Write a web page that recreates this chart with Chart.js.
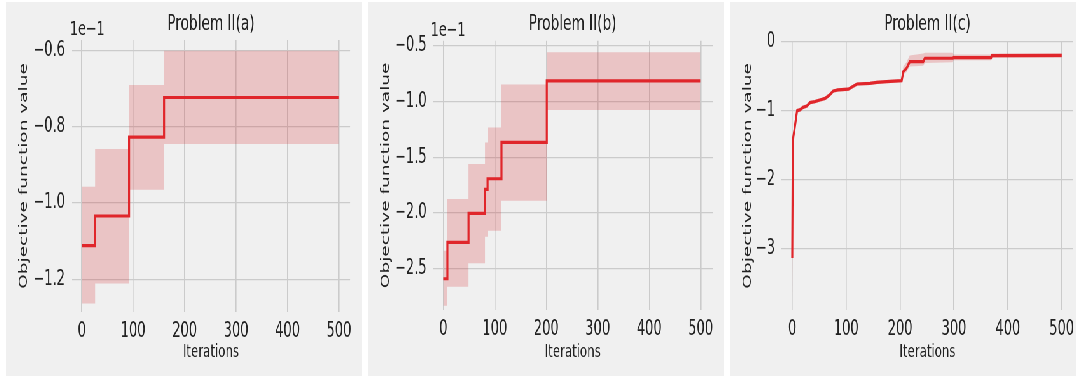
<!DOCTYPE html>
<html>
<head>
<meta charset="utf-8">
<script src="https://cdn.jsdelivr.net/npm/chart.js@4.4.0/dist/chart.umd.min.js"></script>
<style>
  body { margin: 0; background: #fff; width: 1076px; height: 377px; overflow: hidden; position: relative; }
  .panel { position: absolute; top: 2px; width: 560px; height: 374px; background: #f0f0f0;
           transform: scaleX(0.6357); transform-origin: 0 0; }
  canvas { display: block; }
</style>
</head>
<body>
<div class="panel" style="left:6px"><canvas id="chartA" width="560" height="374"></canvas></div>
<div class="panel" style="left:368px"><canvas id="chartB" width="560" height="374"></canvas></div>
<div class="panel" style="left:730px"><canvas id="chartC" width="560" height="374"></canvas></div>
<script>
// --- data (y values shown in units of 1e-1 for panels a and b) ---
const xTicks = [0, 100, 200, 300, 400, 500];

const itersA = [0, 26, 92, 160, 500];
const meanA  = [-1.112, -1.034, -0.827, -0.723, -0.723];
const upperA = [-0.957, -0.858, -0.690, -0.600, -0.600];
const lowerA = [-1.264, -1.211, -0.965, -0.845, -0.845];
const yTicksA = [-1.2, -1.0, -0.8, -0.6];

const itersB = [0, 8, 49, 81, 86, 113, 201, 500];
const meanB  = [-2.594, -2.266, -2.005, -1.790, -1.694, -1.367, -0.813, -0.813];
const upperB = [-2.342, -1.877, -1.562, -1.367, -1.234, -0.846, -0.555, -0.555];
const lowerB = [-2.836, -2.665, -2.455, -2.216, -2.162, -1.892, -1.075, -1.075];
const yTicksB = [-2.5, -2.0, -1.5, -1.0, -0.5];

const itersC = [0, 1, 2, 4, 7, 9, 14, 20, 27, 33, 42, 51, 61, 69, 76, 85, 104, 110, 120, 144, 157, 175, 203, 206, 212, 218, 243, 246, 298, 299, 369, 370, 500];
const meanC  = [-3.14, -1.48, -1.38, -1.28, -1.11, -1.0, -0.99, -0.953, -0.934, -0.885, -0.87, -0.847, -0.823, -0.774, -0.716, -0.70, -0.69, -0.66, -0.614, -0.605, -0.59, -0.58, -0.566, -0.435, -0.387, -0.29, -0.29, -0.24, -0.24, -0.232, -0.232, -0.203, -0.20];
const upperC = [-3.10, -1.42, -1.34, -1.24, -1.08, -0.97, -0.96, -0.925, -0.905, -0.855, -0.845, -0.82, -0.795, -0.745, -0.69, -0.675, -0.665, -0.635, -0.59, -0.58, -0.565, -0.555, -0.54, -0.36, -0.30, -0.20, -0.17, -0.16, -0.16, -0.185, -0.185, -0.17, -0.17];
const lowerC = [-3.82, -1.55, -1.42, -1.32, -1.14, -1.03, -1.02, -0.98, -0.96, -0.91, -0.895, -0.875, -0.85, -0.80, -0.74, -0.725, -0.715, -0.685, -0.64, -0.63, -0.615, -0.605, -0.59, -0.48, -0.44, -0.36, -0.35, -0.31, -0.30, -0.27, -0.27, -0.235, -0.235];
const yTicksC = [-3, -2, -1, 0];

const FONT = "'DejaVu Sans', sans-serif";
const TEXT = '#222';
const GRID = '#cbcbcb';
const LINE = '#e0262b';
const BAND = 'rgba(214, 40, 45, 0.22)';

const pts = (xs, ys) => xs.map((x, i) => ({ x: x, y: ys[i] }));
const minus = s => s.replace('-', '\u2212');

// draws the "1e−1" offset text above the y axis
const offsetText = {
  id: 'offsetText',
  afterDraw(chart, args, opts) {
    if (!opts.text) return;
    const { ctx, chartArea } = chart;
    ctx.save();
    ctx.font = '20px ' + FONT;
    ctx.fillStyle = TEXT;
    ctx.textAlign = 'left';
    ctx.textBaseline = 'alphabetic';
    ctx.fillText(opts.text, chartArea.left - 3, chartArea.top - 5);
    ctx.restore();
  }
};

function makeChart(id, c) {
  new Chart(document.getElementById(id), {
    type: 'line',
    data: {
      datasets: [
        { data: pts(c.iters, c.mean), borderColor: LINE, borderWidth: 3.2, pointRadius: 0,
          fill: false, stepped: c.stepped, order: 0 },
        { data: pts(c.iters, c.upper), borderWidth: 0, borderColor: 'rgba(0,0,0,0)', pointRadius: 0,
          backgroundColor: BAND, fill: '+1', stepped: c.stepped, order: 1 },
        { data: pts(c.iters, c.lower), borderWidth: 0, borderColor: 'rgba(0,0,0,0)', pointRadius: 0,
          fill: false, stepped: c.stepped, order: 2 }
      ]
    },
    options: {
      responsive: false,
      animation: false,
      events: [],
      layout: { padding: { left: 0, top: 0, bottom: 0, right: c.padRight } },
      plugins: {
        legend: { display: false },
        tooltip: { enabled: false },
        title: {
          display: true, text: c.title, fullSize: false, color: TEXT,
          font: { family: FONT, size: 21.5, weight: 'normal' },
          padding: { top: 9.6, bottom: c.titleGap }
        },
        offsetText: { text: c.offset }
      },
      scales: {
        x: {
          type: 'linear', min: c.xMin, max: c.xMax,
          afterBuildTicks: s => { s.ticks = xTicks.map(v => ({ value: v })); },
          afterFit: s => { s.height = 374 - c.bottom; s.paddingLeft = 0; s.paddingRight = 0; },
          grid: { color: GRID, lineWidth: 1.6, drawTicks: false },
          border: { display: false },
          ticks: { color: TEXT, font: { family: FONT, size: 20.5 }, padding: 7, maxRotation: 0,
                   callback: v => String(v) },
          title: { display: true, text: 'Iterations', color: TEXT,
                   font: { family: FONT, size: 18.5 }, padding: 12.4 }
        },
        y: {
          type: 'linear', min: c.yMin, max: c.yMax,
          afterBuildTicks: s => { s.ticks = c.yTicks.map(v => ({ value: v })); },
          afterFit: s => { s.width = c.left; s.paddingTop = 0; s.paddingBottom = 0; },
          grid: { color: GRID, lineWidth: 1.3, drawTicks: false },
          border: { display: false },
          ticks: { color: TEXT, font: { family: FONT, size: 20.5 }, padding: c.tickPad,
                   callback: v => minus(v.toFixed(c.digits)) },
          title: { display: true, text: 'Objective function value', color: TEXT,
                   font: { family: FONT, size: 18.5 }, padding: 17 }
        }
      }
    },
    plugins: [offsetText]
  });
}

makeChart('chartA', {
  title: 'Problem II(a)', offset: '1e\u22121', iters: itersA, mean: meanA, upper: upperA, lower: lowerA,
  yTicks: yTicksA, stepped: 'before', digits: 1,
  xMin: -19, xMax: 521.4, yMin: -1.286, yMax: -0.572,
  left: 103.8, padRight: 18.9, bottom: 310, titleGap: 2.6, tickPad: 11
});
makeChart('chartB', {
  title: 'Problem II(b)', offset: '1e\u22121', iters: itersB, mean: meanB, upper: upperB, lower: lowerB,
  yTicks: yTicksB, stepped: 'before', digits: 1,
  xMin: -20.6, xMax: 523.3, yMin: -2.875, yMax: -0.452,
  left: 101.8, padRight: 17.8, bottom: 308, titleGap: 3.3, tickPad: 9.5
});
makeChart('chartC', {
  title: 'Problem II(c)', offset: '', iters: itersC, mean: meanC, upper: upperC, lower: lowerC,
  yTicks: yTicksC, stepped: false, digits: 0,
  xMin: -19.7, xMax: 521.5, yMin: -3.896, yMax: 0,
  left: 81.3, padRight: 20, bottom: 308, titleGap: 4.3, tickPad: 10.5
});
</script>
</body>
</html>
